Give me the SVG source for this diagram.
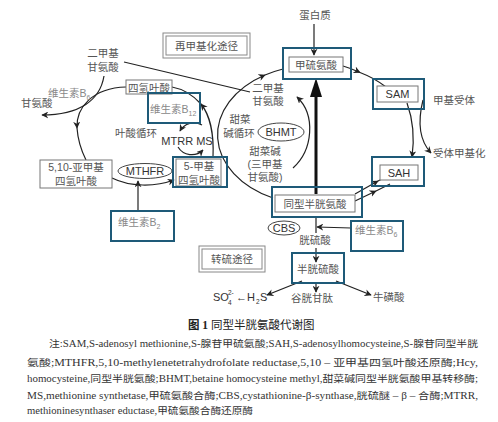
<svg xmlns="http://www.w3.org/2000/svg" width="498" height="422" viewBox="0 0 498 422">
<defs>
<marker id="ah" viewBox="0 0 10 10" refX="9" refY="5" markerWidth="7" markerHeight="7" markerUnits="userSpaceOnUse" orient="auto"><path d="M0,0 L10,5 L0,10 L3,5 z" fill="#222"/></marker>
<style>
.t{font-family:"Liberation Sans","Noto Sans CJK SC",sans-serif;font-size:10.5px;fill:#555;text-anchor:middle}
.tl{font-family:"Liberation Sans","Noto Sans CJK SC",sans-serif;font-size:10.5px;fill:#555}
.v{font-family:"Liberation Sans","Noto Sans CJK SC",sans-serif;font-size:10.5px;fill:#888}
.e{font-family:"Liberation Sans",sans-serif;font-size:11px;fill:#333;text-anchor:middle}
.es{font-family:"Liberation Sans",sans-serif;font-size:11px;fill:#333}
.sm{font-family:"Liberation Sans",sans-serif;font-size:6.5px;fill:#333}
.blue{fill:none;stroke:#1e5a78;stroke-width:2}
.gray{fill:#fff;stroke:#777;stroke-width:1}
.ln{fill:none;stroke:#222;stroke-width:1.2}
.ell{fill:#fff;stroke:#444;stroke-width:1}
.cap{font-family:"Liberation Serif","Noto Sans CJK SC",serif;font-size:11.5px;fill:#222}
.note{font-family:"Liberation Serif","Noto Sans CJK SC",serif;font-size:9.5px;fill:#333}
</style>
</defs>
<g id="connectors">
<path class="ln" d="M343,66 A98,70 0 0 1 360,72.5" marker-end="url(#ah)"/>
<path class="ln" d="M360,72.5 A98,70 0 0 1 386,87"/>
<path class="ln" d="M407,103 Q416,128 412,157" marker-end="url(#ah)"/>
<path class="ln" d="M423,100 C418,120 419,140 431,153" marker-end="url(#ah)"/>
<path class="ln" d="M355,194 L378,181" marker-end="url(#ah)"/>
<path class="ln" d="M378,181 L384,178"/>
<path class="ln" d="M355,201 L376,191" marker-end="url(#ah)"/>
<path class="ln" d="M376,191 L390,184"/>
<path class="ln" d="M273,198 A98,70 0 0 1 265,75" marker-end="url(#ah)"/>
<path class="ln" d="M265,75 A98,70 0 0 1 283,69"/>
<path class="ln" d="M293,168 C313,150 316,115 297,97" marker-end="url(#ah)" stroke-width="2"/>
<path class="ln" d="M124,62 L250,92"/>
<line x1="316" y1="194" x2="316" y2="94" stroke="#111" stroke-width="3"/>
<polygon points="316,78 310,97 322,97" fill="#111"/>
<path class="ln" d="M314,24 L314,55" marker-end="url(#ah)"/>
<path class="ln" d="M126,87 C92,88 76,108 77,128" marker-end="url(#ah)"/>
<path class="ln" d="M77,128 C78,142 82,152 86,160"/>
<path class="ln" d="M112,178 C130,187 155,187 174,180" marker-end="url(#ah)"/>
<path class="ln" d="M138,211 L138,181" marker-end="url(#ah)" stroke="#555"/>
<path class="ln" d="M213,157 C214,135 210,115 201,104" marker-end="url(#ah)"/>
<path class="ln" d="M201,104 C192,94 183,89 172,87"/>
<path class="ln" d="M202,125 A16,16 0 0 0 180,131" marker-end="url(#ah)"/>
<path class="ln" d="M178,147 A16,16 0 0 0 203,150" marker-end="url(#ah)"/>
<path class="ln" d="M104,76 C100,100 80,115 42,115" marker-end="url(#ah)"/>
<path class="ln" d="M316,217 L316,233"/>
<path class="ln" d="M351,228 L317,227" marker-end="url(#ah)"/>
<path class="ln" d="M316,248 L316,262" marker-end="url(#ah)"/>
<path class="ln" d="M302,281 L267,295" marker-end="url(#ah)"/>
<path class="ln" d="M316,283 L316,292" marker-end="url(#ah)"/>
<path class="ln" d="M336,281 L371,295" marker-end="url(#ah)"/>
</g>
<g id="protein"><text class="t" x="315" y="19">蛋白质</text></g>
<g id="met"><rect class="gray" x="289" y="57" width="54" height="15"/><rect class="blue" x="283" y="48" width="68" height="31"/><text class="t" x="316" y="68.5">甲硫氨酸</text></g>
<g id="sam"><rect class="gray" x="377" y="86" width="41" height="16"/><rect class="blue" x="373" y="79" width="51" height="30"/><text class="e" x="397.5" y="98">SAM</text></g>
<g id="acceptor"><text class="tl" x="433" y="104">甲基受体</text></g>
<g id="methylated"><text class="tl" x="433" y="157">受体甲基化</text></g>
<g id="sah"><rect class="gray" x="380" y="165" width="38" height="15"/><rect class="blue" x="372" y="157" width="52" height="29"/><text class="e" x="399" y="176.5">SAH</text></g>
<g id="hcy"><rect class="gray" x="275" y="195" width="80" height="17"/><rect class="blue" x="272" y="187" width="90" height="30"/><text class="t" x="315" y="207.5">同型半胱氨酸</text></g>
<g id="remethyl"><rect x="163" y="33" width="87" height="25" fill="#fff" stroke="#888"/><rect x="166" y="36" width="81" height="19" fill="none" stroke="#888"/><text class="t" x="206.5" y="49.5">再甲基化途径</text></g>
<g id="dmg-left"><text class="t" x="103" y="57">二甲基</text><text class="t" x="103" y="71">甘氨酸</text></g>
<g id="b6-left"><text class="v" x="48" y="97">维生素B<tspan font-size="7" dy="3">6</tspan></text></g>
<g id="gly"><text class="tl" x="21" y="107">甘氨酸</text></g>
<g id="thf"><rect class="gray" x="126" y="80" width="46" height="14"/><text class="t" x="149" y="91.5">四氢叶酸</text></g>
<g id="b12"><rect class="blue" x="148" y="93" width="52" height="30"/><text class="v" x="150" y="113">维生素B<tspan font-size="7" dy="3">12</tspan></text></g>
<g id="folate-label"><text class="t" x="136" y="137">叶酸循环</text></g>
<g id="mtrr-ms"><text class="e" x="187" y="144.5">MTRR MS</text></g>
<g id="methylene-thf"><rect class="gray" x="40" y="160" width="72" height="28"/><text class="t" x="76" y="171">5,10-亚甲基</text><text class="t" x="76" y="185">四氢叶酸</text></g>
<g id="mthfr"><ellipse class="ell" cx="145" cy="171" rx="27" ry="7.5"/><text class="e" x="145" y="175">MTHFR</text></g>
<g id="methyl-thf"><rect class="gray" x="176" y="159" width="45" height="27"/><rect class="blue" x="173" y="157" width="54" height="30"/><text class="t" x="199" y="170">5-甲基</text><text class="t" x="199" y="184">四氢叶酸</text></g>
<g id="b2"><rect class="blue" x="111" y="211" width="63" height="30"/><text class="v" x="118" y="226">维生素B<tspan font-size="7" dy="3">2</tspan></text></g>
<g id="dmg-right"><text class="t" x="268" y="92">二甲基</text><text class="t" x="268" y="105">甘氨酸</text></g>
<g id="betaine-cycle"><text class="t" x="240" y="123">甜菜</text><text class="t" x="239" y="137">碱循环</text></g>
<g id="bhmt"><ellipse class="ell" cx="281" cy="132" rx="23" ry="9"/><text class="e" x="281" y="136">BHMT</text></g>
<g id="betaine"><text class="t" x="265" y="155" font-size="10">甜菜碱</text><text class="t" x="265" y="168" font-size="10">(三甲基</text><text class="t" x="265" y="181" font-size="10">甘氨酸)</text></g>
<g id="cbs"><ellipse class="ell" cx="284" cy="228" rx="16" ry="7"/><text class="e" x="284" y="232" font-size="10">CBS</text></g>
<g id="b6-right"><rect class="blue" x="351" y="221" width="52" height="30"/><text class="v" x="355" y="234">维生素B<tspan font-size="7" dy="3">6</tspan></text></g>
<g id="cystathionine"><text class="t" x="315" y="244">胱硫酸</text></g>
<g id="transsulf"><rect x="199" y="246" width="66" height="26" fill="#fff" stroke="#888"/><rect x="202" y="249" width="60" height="20" fill="none" stroke="#888"/><text class="t" x="232" y="263">转硫途径</text></g>
<g id="cysteine"><rect class="blue" x="292" y="253" width="52" height="30"/><text class="t" x="318" y="273">半胱硫酸</text></g>
<g id="h2s"><text class="es" x="213" y="301">SO</text><text class="sm" x="228" y="295">2-</text><text class="sm" x="228" y="305">4</text><text class="es" x="236" y="301">←H</text><text class="sm" x="256" y="304">2</text><text class="es" x="260" y="301">S</text></g>
<g id="gsh"><text class="t" x="312" y="302">谷胱甘肽</text></g>
<g id="taurine"><text class="tl" x="373" y="301">牛磺酸</text></g>
<g id="caption">
<text class="cap" x="188" y="329"><tspan font-weight="bold">图 1</tspan> 同型半胱氨酸代谢图</text>
<text class="note" x="49" y="347" textLength="429" lengthAdjust="spacingAndGlyphs">注:SAM,S-adenosyl methionine,S-腺苷甲硫氨酸;SAH,S-adenosylhomocysteine,S-腺苷同型半胱</text>
<text class="note" x="27" y="366" textLength="451" lengthAdjust="spacingAndGlyphs">氨酸;MTHFR,5,10-methylenetetrahydrofolate reductase,5,10 – 亚甲基四氢叶酸还原酶;Hcy,</text>
<text class="note" x="27" y="382" textLength="451" lengthAdjust="spacingAndGlyphs">homocysteine,同型半胱氨酸;BHMT,betaine homocysteine methyl,甜菜碱同型半胱氨酸甲基转移酶;</text>
<text class="note" x="27" y="399" textLength="451" lengthAdjust="spacingAndGlyphs">MS,methionine synthetase,甲硫氨酸合酶;CBS,cystathionine-β-synthase,胱硫醚 – β – 合酶;MTRR,</text>
<text class="note" x="27" y="414" textLength="226" lengthAdjust="spacingAndGlyphs">methioninesynthaser eductase,甲硫氨酸合酶还原酶</text>
</g>
</svg>
